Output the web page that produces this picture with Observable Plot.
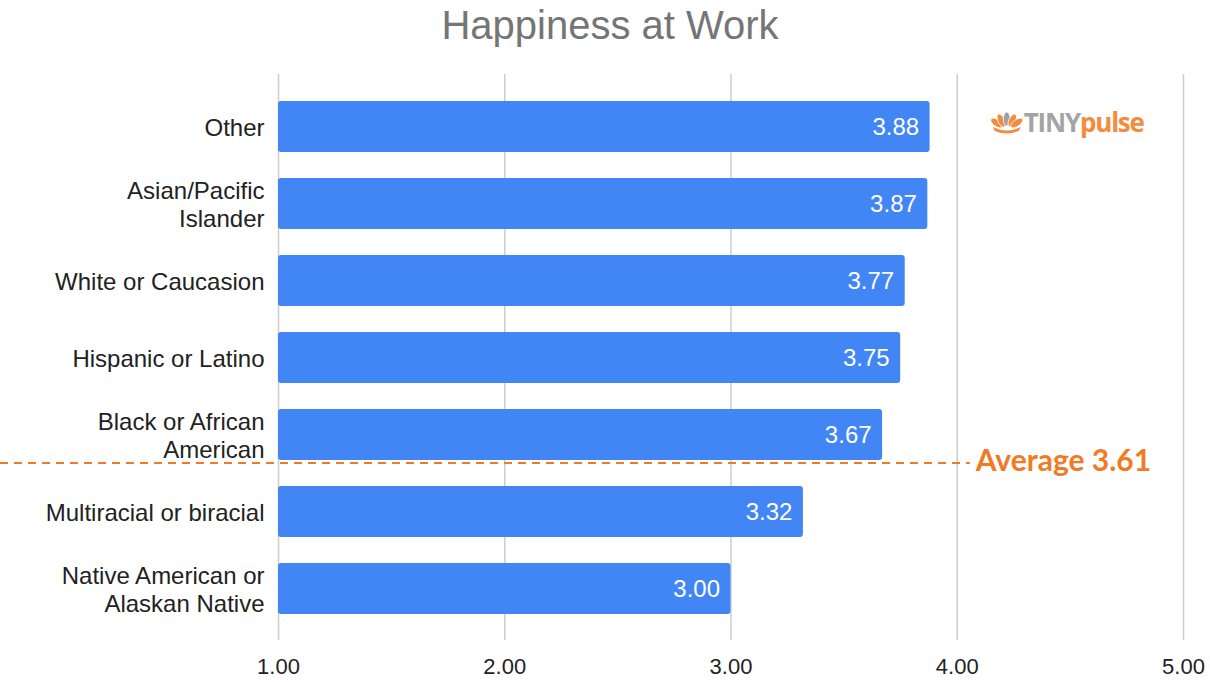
<!DOCTYPE html>
<html>
<head>
<meta charset="utf-8">
<script src="https://cdn.jsdelivr.net/npm/d3@7"></script>
<script src="https://cdn.jsdelivr.net/npm/@observablehq/plot@0.6"></script>
<style>
  html, body { margin: 0; padding: 0; background: #fff; }
  #chart svg { display: block; }
</style>
</head>
<body>
<div id="chart"></div>
<script>
const categories = [
  "Other",
  "Asian/Pacific Islander",
  "White or Caucasion",
  "Hispanic or Latino",
  "Black or African American",
  "Multiracial or biracial",
  "Native American or Alaskan Native"
];
const categoryLabels = [
  "Other",
  "Asian/Pacific\nIslander",
  "White or Caucasion",
  "Hispanic or Latino",
  "Black or African\nAmerican",
  "Multiracial or biracial",
  "Native American or\nAlaskan Native"
];
const values = [3.88, 3.87, 3.77, 3.75, 3.67, 3.32, 3.00];
const xTicks = [1, 2, 3, 4, 5];
const average = 3.61;
const averageAfter = "Black or African American";
const title = "Happiness at Work";

const data = categories.map((c, i) => ({category: c, value: values[i]}));
const labelOf = new Map(categories.map((c, i) => [c, categoryLabels[i]]));

const W = 1210, H = 682;
const blue = "#4285f4";
const orange = "#f27a24";

const chart = Plot.plot({
  width: W,
  height: H,
  marginLeft: 278,
  marginRight: 27,
  marginTop: 74,
  marginBottom: 42,
  style: {fontFamily: "'Liberation Sans', Arial, sans-serif", background: "#fff"},
  x: {domain: [1, 5], ticks: xTicks, label: null},
  y: {domain: categories, padding: 0.34, label: null},
  marks: [
    Plot.gridX(xTicks, {stroke: "#cccccc", strokeOpacity: 1, strokeWidth: 1.5}),
    Plot.axisX(xTicks, {
      tickSize: 0, tickPadding: 18, tickFormat: d3.format(".2f"),
      fontSize: 22, fill: "#222", label: null
    }),
    Plot.axisY({
      tickSize: 0, tickPadding: 14, tickFormat: d => labelOf.get(d),
      fontSize: 24, fill: "#222", lineHeight: 1.17, label: null
    }),
    Plot.barX(data, {y: "category", x1: 1, x2: "value", fill: blue, rx: 3}),
    Plot.text(data, {
      y: "category", x: "value", text: d => d3.format(".2f")(d.value),
      textAnchor: "end", dx: -11, fill: "white", fontSize: 24
    })
  ]
});

const svg = d3.select(chart);
const xs = chart.scale("x");
const ys = chart.scale("y");
const x4 = xs.apply(4);

// title
svg.append("text")
  .attr("x", 610)
  .attr("y", 39)
  .attr("text-anchor", "middle")
  .attr("fill", "#757575")
  .attr("font-size", 40)
  .attr("font-family", "'Liberation Sans', Arial, sans-serif")
  .text(title);

// average line
const yAvg = ys.apply(averageAfter) + ys.bandwidth + 3;
svg.append("line")
  .attr("x1", 0).attr("x2", x4 + 13)
  .attr("y1", yAvg).attr("y2", yAvg)
  .attr("stroke", orange).attr("stroke-width", 2)
  .attr("stroke-dasharray", "8,6");
svg.append("text")
  .attr("x", x4 + 19)
  .attr("y", yAvg + 8)
  .attr("text-anchor", "start")
  .attr("fill", orange)
  .attr("font-size", 30)
  .attr("font-weight", "bold")
  .attr("font-family", "Lato, 'Open Sans', sans-serif")
  .text("Average " + average.toFixed(2));

// logo
const lg = svg.append("g").attr("transform", `translate(${x4 + 50}, 122)`);
const petals = [[-10, 1, -55, "#f58b3c"], [-5.5, -1.5, -25, "#f58b3c"], [0, -3, 0, "#9aa0a8"], [5.5, -1.5, 25, "#f58b3c"], [10, 1, 55, "#f58b3c"]];
petals.forEach(([px, py, rot, c]) => {
  lg.append("ellipse")
    .attr("cx", 0).attr("cy", 0).attr("rx", 3.4).attr("ry", 7)
    .attr("transform", `translate(${px},${py}) rotate(${rot})`)
    .attr("fill", c)
    .attr("stroke", "#fff").attr("stroke-width", 0.8);
});
lg.append("path").attr("d", "M-14,5 Q0,12 14,5 L12,9 Q0,14 -12,9 Z").attr("fill", "#f58b3c");
const lt = svg.append("text")
  .attr("x", x4 + 67).attr("y", 132)
  .attr("text-anchor", "start")
  .attr("font-size", 26).attr("font-weight", "bold")
  .attr("font-family", "'Open Sans', sans-serif")
  .attr("letter-spacing", -1.2);
lt.append("tspan").attr("fill", "#a4a4a4").text("TINY");
lt.append("tspan").attr("fill", "#f58b3c").text("pulse");

document.getElementById("chart").appendChild(chart);
</script>
</body>
</html>
